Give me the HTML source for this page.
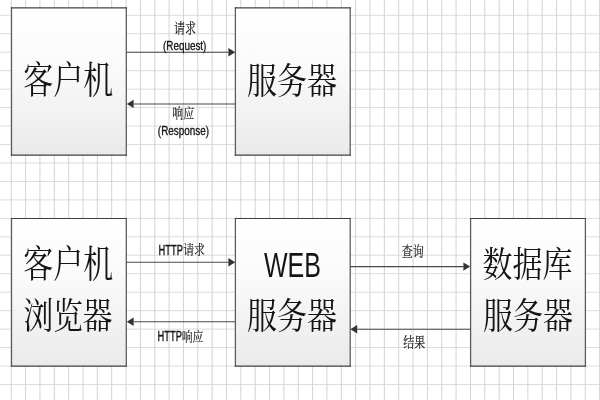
<!DOCTYPE html>
<html lang="zh-CN"><head><meta charset="utf-8"><title>C/S 与 B/S 结构</title>
<style>html,body{margin:0;padding:0;background:#fff;overflow:hidden}svg{display:block;will-change:transform}</style></head><body>
<svg width="600" height="400" viewBox="0 0 600 400">
<defs><linearGradient id="g" x1="0" y1="0" x2="0" y2="1"><stop offset="0" stop-color="#ffffff"/><stop offset="0.4" stop-color="#fafafa"/><stop offset="1" stop-color="#eaeaea"/></linearGradient></defs>
<rect width="600" height="400" fill="#ffffff"/>
<path d="M0 15.30H600M0 33.76H600M0 52.22H600M0 70.68H600M0 89.14H600M0 107.60H600M0 126.06H600M0 144.52H600M0 162.98H600M0 181.44H600M0 199.90H600M0 218.36H600M0 236.82H600M0 255.28H600M0 273.74H600M0 292.20H600M0 310.66H600M0 329.12H600M0 347.58H600M0 366.04H600M0 384.50H600" stroke="#dcdcdc" stroke-width="1" fill="none"/>
<path d="M11.25 0V400M25.60 0V400M39.95 0V400M54.30 0V400M68.65 0V400M83.00 0V400M97.35 0V400M111.70 0V400M126.05 0V400M140.40 0V400M154.75 0V400M169.10 0V400M183.45 0V400M197.80 0V400M212.15 0V400M226.50 0V400M240.85 0V400M255.20 0V400M269.55 0V400M283.90 0V400M298.25 0V400M312.60 0V400M326.95 0V400M341.30 0V400M355.65 0V400M370.00 0V400M384.35 0V400M398.70 0V400M413.05 0V400M427.40 0V400M441.75 0V400M456.10 0V400M470.45 0V400M484.80 0V400M499.15 0V400M513.50 0V400M527.85 0V400M542.20 0V400M556.55 0V400M570.90 0V400M585.25 0V400M599.60 0V400" stroke="#d3d3d3" stroke-width="1" fill="none"/>
<rect x="11.5" y="7.8" width="114.80" height="147.40" fill="url(#g)"/><path d="M11.5 7.2V155.79999999999998M126.3 7.2V155.79999999999998" stroke="#5a5a5a" stroke-width="1.25" fill="none"/><path d="M10.9 7.8H126.89999999999999M10.9 155.2H126.89999999999999" stroke="#424242" stroke-width="1.2" fill="none"/>
<rect x="235.4" y="7.8" width="114.80" height="147.40" fill="url(#g)"/><path d="M235.4 7.2V155.79999999999998M350.2 7.2V155.79999999999998" stroke="#5a5a5a" stroke-width="1.25" fill="none"/><path d="M234.8 7.8H350.8M234.8 155.2H350.8" stroke="#424242" stroke-width="1.2" fill="none"/>
<rect x="11.5" y="218.5" width="114.80" height="147.60" fill="url(#g)"/><path d="M11.5 217.9V366.70000000000005M126.3 217.9V366.70000000000005" stroke="#5a5a5a" stroke-width="1.25" fill="none"/><path d="M10.9 218.5H126.89999999999999M10.9 366.1H126.89999999999999" stroke="#424242" stroke-width="1.2" fill="none"/>
<rect x="235.4" y="218.5" width="114.80" height="147.60" fill="url(#g)"/><path d="M235.4 217.9V366.70000000000005M350.2 217.9V366.70000000000005" stroke="#5a5a5a" stroke-width="1.25" fill="none"/><path d="M234.8 218.5H350.8M234.8 366.1H350.8" stroke="#424242" stroke-width="1.2" fill="none"/>
<rect x="470.6" y="218.5" width="114.80" height="147.60" fill="url(#g)"/><path d="M470.6 217.9V366.70000000000005M585.4 217.9V366.70000000000005" stroke="#5a5a5a" stroke-width="1.25" fill="none"/><path d="M470.0 218.5H586.0M470.0 366.1H586.0" stroke="#424242" stroke-width="1.2" fill="none"/>
<path d="M126.4 52.2H228.40" stroke="#484848" stroke-width="1.05" fill="none"/><path d="M235.2 52.2L228.40 48.0V56.400000000000006Z" fill="#333"/>
<path d="M235.5 103.9H133.60" stroke="#484848" stroke-width="1.05" fill="none"/><path d="M126.8 103.9L133.60 99.7V108.10000000000001Z" fill="#333"/>
<path d="M126.4 262.3H228.40" stroke="#484848" stroke-width="1.05" fill="none"/><path d="M235.2 262.3L228.40 258.1V266.5Z" fill="#333"/>
<path d="M235.5 321.8H133.60" stroke="#484848" stroke-width="1.05" fill="none"/><path d="M126.8 321.8L133.60 317.6V326.0Z" fill="#333"/>
<path d="M350 266.6H463.40" stroke="#484848" stroke-width="1.05" fill="none"/><path d="M470.2 266.6L463.40 262.40000000000003V270.8Z" fill="#333"/>
<path d="M470.5 329.3H357.20" stroke="#484848" stroke-width="1.05" fill="none"/><path d="M350.4 329.3L357.20 325.1V333.5Z" fill="#333"/>
<text transform="translate(68.3 93.4) scale(1 1.26)" text-anchor="middle" font-family='"Liberation Serif","Noto Serif CJK SC",serif' font-size="30" font-weight="400" fill="#141414">客户机</text>
<text transform="translate(292.1 94.0) scale(1 1.22)" text-anchor="middle" font-family='"Liberation Serif","Noto Serif CJK SC",serif' font-size="30" font-weight="400" fill="#141414">服务器</text>
<text transform="translate(68.3 277.05) scale(1 1.26)" text-anchor="middle" font-family='"Liberation Serif","Noto Serif CJK SC",serif' font-size="30" font-weight="400" fill="#141414">客户机</text>
<text transform="translate(68.0 328.8) scale(0.99 1.21)" text-anchor="middle" font-family='"Liberation Serif","Noto Serif CJK SC",serif' font-size="30" font-weight="400" fill="#141414">浏览器</text>
<text transform="translate(292.5 277.4) scale(1 1.397)" text-anchor="middle" font-family='"Liberation Sans",sans-serif' font-size="25.0" font-weight="400" fill="#141414">WEB</text>
<text transform="translate(291.9 328.8) scale(1 1.22)" text-anchor="middle" font-family='"Liberation Serif","Noto Serif CJK SC",serif' font-size="30" font-weight="400" fill="#141414">服务器</text>
<text transform="translate(527.6 276.8) scale(1.0 1.19)" text-anchor="middle" font-family='"Liberation Serif","Noto Serif CJK SC",serif' font-size="30" font-weight="400" fill="#141414">数据库</text>
<text transform="translate(528.1 328.8) scale(1 1.22)" text-anchor="middle" font-family='"Liberation Serif","Noto Serif CJK SC",serif' font-size="30" font-weight="400" fill="#141414">服务器</text>
<text transform="translate(185 32.5) scale(1 1.2)" text-anchor="middle" font-family='"Liberation Serif","Noto Serif CJK SC",serif' font-size="11" font-weight="400" fill="#141414" stroke="#1a1a1a" stroke-width="0.1">请求</text>
<text transform="translate(184.7 49.9) scale(1 1.3)" text-anchor="middle" font-family='"Liberation Sans",sans-serif' font-size="9.9" font-weight="400" fill="#141414" stroke="#1a1a1a" stroke-width="0.28">(Request)</text>
<text transform="translate(183.3 117.66) scale(1 1.2)" text-anchor="middle" font-family='"Liberation Serif","Noto Serif CJK SC",serif' font-size="11" font-weight="400" fill="#141414" stroke="#1a1a1a" stroke-width="0.1">响应</text>
<text transform="translate(183.4 134.7) scale(1 1.3)" text-anchor="middle" font-family='"Liberation Sans",sans-serif' font-size="9.9" font-weight="400" fill="#141414" stroke="#1a1a1a" stroke-width="0.28">(Response)</text>
<text transform="translate(170.7 254.5) scale(1 1.49)" text-anchor="middle" font-family='"Liberation Sans",sans-serif' font-size="9.3" font-weight="400" fill="#141414" stroke="#1a1a1a" stroke-width="0.28">HTTP</text>
<text transform="translate(194 254.24) scale(1 1.2)" text-anchor="middle" font-family='"Liberation Serif","Noto Serif CJK SC",serif' font-size="10.8" font-weight="400" fill="#141414" stroke="#1a1a1a" stroke-width="0.1">请求</text>
<text transform="translate(169.7 341.2) scale(1 1.49)" text-anchor="middle" font-family='"Liberation Sans",sans-serif' font-size="9.3" font-weight="400" fill="#141414" stroke="#1a1a1a" stroke-width="0.28">HTTP</text>
<text transform="translate(192.6 341.3) scale(1 1.2)" text-anchor="middle" font-family='"Liberation Serif","Noto Serif CJK SC",serif' font-size="10.8" font-weight="400" fill="#141414" stroke="#1a1a1a" stroke-width="0.1">响应</text>
<text transform="translate(412.75 256.05) scale(1 1.2)" text-anchor="middle" font-family='"Liberation Serif","Noto Serif CJK SC",serif' font-size="11" font-weight="400" fill="#141414" stroke="#1a1a1a" stroke-width="0.1">查询</text>
<text transform="translate(414.35 346.5) scale(1 1.2)" text-anchor="middle" font-family='"Liberation Serif","Noto Serif CJK SC",serif' font-size="11" font-weight="400" fill="#141414" stroke="#1a1a1a" stroke-width="0.1">结果</text>
</svg>
</body></html>
